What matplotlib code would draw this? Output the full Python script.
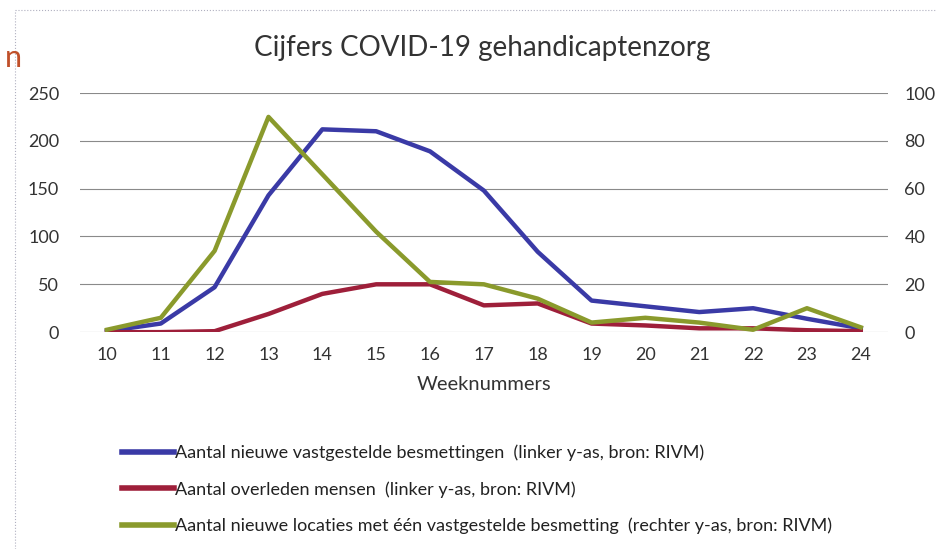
import matplotlib.pyplot as plt
from matplotlib.lines import Line2D

plt.rcParams['font.family'] = ['Lato', 'DejaVu Sans']

# weeknummers
weken = list(range(10, 25))

# linker y-as
besmettingen = [1, 9, 47, 143, 212, 210, 189, 148, 84, 33, 27, 21, 25, 14, 4]
overleden = [0, 0, 1, 19, 40, 50, 50, 28, 30, 9, 7, 4, 4, 2, 1]

# rechter y-as
locaties = [1, 6, 34, 90, 66, 42, 21, 20, 14, 4, 6, 4, 1, 10, 2]

labels = [
    "Aantal nieuwe vastgestelde besmettingen  (linker y-as, bron: RIVM)",
    "Aantal overleden mensen  (linker y-as, bron: RIVM)",
    "Aantal nieuwe locaties met één vastgestelde besmetting  (rechter y-as, bron: RIVM)",
]
kleuren = ['#3a3aa6', '#9e1f3a', '#8a9a2c']

fig = plt.figure(figsize=(9.37, 5.49), dpi=100)
ax = fig.add_axes([0.0854, 0.395, 0.862, 0.4356])
ax2 = ax.twinx()

ax.plot(weken, besmettingen, color=kleuren[0], lw=3.2, solid_joinstyle='round', zorder=3)
ax.plot(weken, overleden, color=kleuren[1], lw=3.2, solid_joinstyle='round', zorder=3)
ax2.plot(weken, locaties, color=kleuren[2], lw=3.2, solid_joinstyle='round', zorder=4)

ax.set_xlim(9.5, 24.5)
ax.set_ylim(0, 250)
ax2.set_ylim(0, 100)
ax.set_yticks(range(0, 251, 50))
ax2.set_yticks(range(0, 101, 20))
ax.set_xticks(weken)

ax.grid(axis='y', color='#8a8a8a', lw=0.8)
ax.set_axisbelow(True)
for a in (ax, ax2):
    for s in a.spines.values():
        s.set_visible(False)
    a.tick_params(length=0, labelsize=13, colors='#333333')
ax.tick_params(axis='y', pad=15)
ax2.tick_params(axis='y', pad=12)
ax.tick_params(axis='x', pad=11)

ax.set_xlabel("Weeknummers", fontsize=14.5, color='#333333', labelpad=9)
fig.text(0.515, 0.912, "Cijfers COVID-19 gehandicaptenzorg", ha='center', va='center',
         fontsize=20, color='#333333')

# rest van een afgesneden kop
fig.text(0.005, 0.895, "n", fontsize=22, color='#c0502a', va='center')

# kader
fig.add_artist(Line2D([0.016, 1.0], [0.982, 0.982], color='#b0b0c0', lw=0.8, ls=':'))
fig.add_artist(Line2D([0.016, 0.016], [0.0, 0.982], color='#b0b0c0', lw=0.8, ls=':'))

handles = [Line2D([], [], color=k, lw=4) for k in kleuren]
fig.legend(handles, labels, loc='upper left', bbox_to_anchor=(0.122, 0.203),
           frameon=False, fontsize=13, handlelength=2.9, handletextpad=0.05,
           labelspacing=1.1, labelcolor='#222222', borderaxespad=0)

fig.savefig("out.png", dpi=100)
